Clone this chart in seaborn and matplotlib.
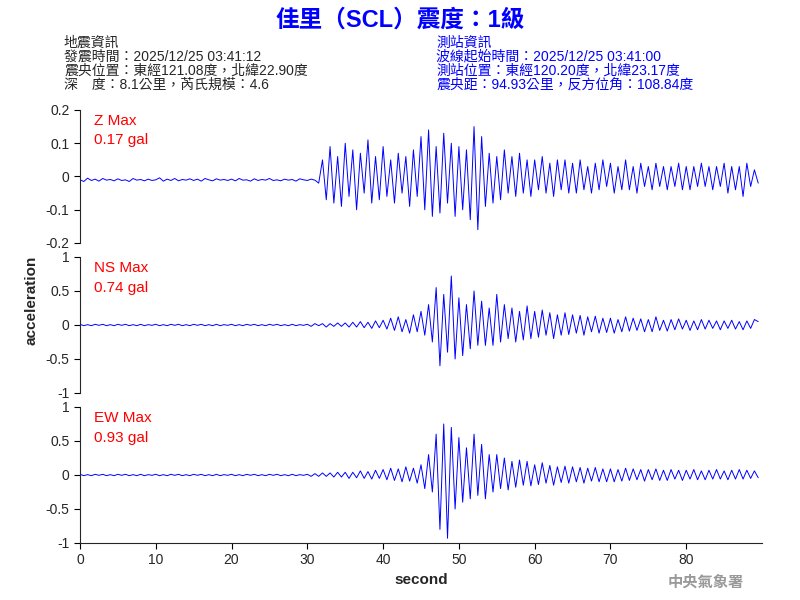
import numpy as np
import pandas as pd
import seaborn as sns
import matplotlib.pyplot as plt

sns.set_style("ticks")
plt.rcParams['font.family'] = ['Liberation Sans', 'Noto Sans CJK TC', 'DejaVu Sans']

dt = 0.5
z_vals = [
-0.01,-0.015,-0.005,-0.012,-0.008,-0.014,-0.006,-0.011,-0.009,-0.013,
-0.007,-0.012,-0.01,-0.015,-0.006,-0.011,-0.009,-0.013,-0.008,-0.012,
-0.01,-0.004,-0.014,-0.008,-0.012,-0.006,-0.013,-0.009,-0.011,-0.007,
-0.012,-0.008,-0.014,-0.006,-0.01,-0.013,-0.007,-0.011,-0.009,-0.012,
-0.008,-0.013,-0.006,-0.011,-0.01,-0.014,-0.007,-0.012,-0.009,-0.011,
-0.006,-0.012,-0.01,-0.013,-0.008,-0.011,-0.009,-0.014,-0.007,-0.01,
-0.012,-0.008,-0.011,-0.02,0.05,-0.07,0.09,-0.08,0.06,-0.09,
0.1,-0.06,0.08,-0.1,0.07,-0.05,0.11,-0.08,0.06,-0.07,
0.09,-0.06,0.05,-0.08,0.07,-0.05,0.06,-0.09,0.08,-0.06,
0.12,-0.1,0.14,-0.12,0.09,-0.11,0.13,-0.08,0.1,-0.12,
0.09,-0.1,0.08,-0.13,0.15,-0.16,0.12,-0.09,0.07,-0.08,
0.06,-0.07,0.08,-0.05,0.06,-0.06,0.07,-0.05,0.05,-0.06,
0.05,-0.04,0.06,-0.05,0.04,-0.06,0.05,-0.04,0.05,-0.05,
0.04,-0.05,0.05,-0.04,0.03,-0.05,0.04,-0.04,0.05,-0.03,
0.04,-0.05,0.03,-0.04,0.05,-0.04,0.03,-0.05,0.04,-0.03,
0.03,-0.04,0.04,-0.03,0.03,-0.04,0.03,-0.03,0.04,-0.04,
0.03,-0.04,0.03,-0.03,0.04,-0.03,0.03,-0.04,0.03,-0.03,
0.04,-0.05,0.03,-0.04,0.03,-0.06,0.04,-0.03,0.02,-0.02,
]
ns_vals = [
0.01,-0.01,0.005,-0.01,0.01,-0.005,0.01,-0.01,0.005,-0.01,
0.01,-0.005,0.01,-0.01,0.005,-0.01,0.01,-0.01,0.005,-0.005,
0.01,-0.01,0.005,-0.01,0.01,-0.005,0.01,-0.01,0.005,-0.01,
0.01,-0.005,0.01,-0.01,0.005,-0.01,0.01,-0.01,0.005,-0.005,
0.01,-0.01,0.005,-0.01,0.01,-0.005,0.01,-0.01,0.005,-0.01,
0.01,-0.005,0.01,-0.01,0.005,-0.01,0.01,-0.01,0.005,-0.005,
0.01,-0.02,0.02,-0.01,0.02,-0.03,0.02,-0.02,0.03,-0.02,
0.03,-0.03,0.04,-0.03,0.05,-0.04,0.04,-0.05,0.06,-0.04,
0.07,-0.06,0.1,-0.08,0.12,-0.1,0.08,-0.12,0.15,-0.1,
0.2,-0.15,0.3,-0.25,0.55,-0.6,0.45,-0.4,0.72,-0.5,
0.4,-0.45,0.3,-0.35,0.5,-0.3,0.35,-0.3,0.25,-0.3,
0.45,-0.25,0.3,-0.2,0.25,-0.25,0.2,-0.22,0.28,-0.2,
0.2,-0.18,0.22,-0.15,0.18,-0.2,0.15,-0.15,0.18,-0.14,
0.15,-0.12,0.14,-0.15,0.12,-0.1,0.13,-0.12,0.1,-0.11,
0.1,-0.12,0.08,-0.1,0.12,-0.09,0.1,-0.08,0.09,-0.1,
0.08,-0.1,0.12,-0.08,0.07,-0.09,0.08,-0.07,0.09,-0.06,
0.07,-0.08,0.06,-0.07,0.08,-0.06,0.07,-0.05,0.06,-0.07,
0.06,-0.05,0.07,-0.06,0.05,-0.07,0.06,-0.05,0.08,0.05,
]
ew_vals = [
0.01,-0.01,0.005,-0.01,0.01,-0.005,0.01,-0.01,0.005,-0.01,
0.01,-0.005,0.01,-0.01,0.005,-0.01,0.01,-0.01,0.005,-0.005,
0.01,-0.01,0.005,-0.01,0.01,-0.005,0.01,-0.01,0.005,-0.01,
0.01,-0.005,0.01,-0.01,0.005,-0.01,0.01,-0.01,0.005,-0.005,
0.01,-0.01,0.005,-0.01,0.01,-0.005,0.01,-0.01,0.005,-0.01,
0.01,-0.005,0.01,-0.01,0.005,-0.01,0.01,-0.01,0.005,-0.005,
0.01,-0.02,0.02,-0.02,0.03,-0.02,0.03,-0.03,0.04,-0.03,
0.04,-0.05,0.04,-0.04,0.06,-0.05,0.05,-0.06,0.07,-0.05,
0.08,-0.07,0.1,-0.08,0.09,-0.1,0.12,-0.09,0.1,-0.12,
0.15,-0.2,0.3,-0.25,0.6,-0.8,0.75,-0.93,0.7,-0.5,
0.55,-0.4,0.4,-0.35,0.6,-0.3,0.45,-0.35,0.3,-0.25,
0.3,-0.2,0.25,-0.22,0.2,-0.18,0.22,-0.15,0.2,-0.16,
0.15,-0.14,0.18,-0.12,0.14,-0.15,0.12,-0.11,0.13,-0.12,
0.12,-0.1,0.11,-0.12,0.1,-0.09,0.11,-0.1,0.09,-0.1,
0.09,-0.1,0.08,-0.09,0.1,-0.08,0.09,-0.07,0.08,-0.09,
0.08,-0.07,0.09,-0.08,0.07,-0.08,0.08,-0.06,0.07,-0.08,
0.07,-0.06,0.08,-0.07,0.06,-0.07,0.07,-0.06,0.08,-0.06,
0.06,-0.07,0.07,-0.06,0.08,-0.06,0.07,-0.05,0.06,-0.04,
]
channels = ["Z", "NS", "EW"]
max_labels = ["0.17 gal", "0.74 gal", "0.93 gal"]
ylims = [(-0.2, 0.2), (-1, 1), (-1, 1)]
yticks = [[-0.2, -0.1, 0, 0.1, 0.2], [-1, -0.5, 0, 0.5, 1], [-1, -0.5, 0, 0.5, 1]]
ytick_labels = [["-0.2", "-0.1", "0", "0.1", "0.2"], ["-1", "-0.5", "0", "0.5", "1"], ["-1", "-0.5", "0", "0.5", "1"]]
xticks = [0, 10, 20, 30, 40, 50, 60, 70, 80]

series = [z_vals, ns_vals, ew_vals]
fig = plt.figure(figsize=(8, 6), dpi=100)
rects = [(0.1, 0.595, 0.8525, 0.2217), (0.1, 0.345, 0.8525, 0.2267), (0.1, 0.095, 0.8525, 0.2267)]
for i, (ch, vals) in enumerate(zip(channels, series)):
    ax = fig.add_axes(rects[i])
    df = pd.DataFrame({"t": np.arange(len(vals)) * dt, "a": vals})
    sns.lineplot(data=df, x="t", y="a", ax=ax, color="#0000ff", linewidth=0.7)
    ax.set_xlim(0, 90)
    ax.set_ylim(*ylims[i])
    ax.set_yticks(yticks[i])
    ax.set_yticklabels(ytick_labels[i])
    ax.set_ylabel("")
    ax.set_xlabel("")
    for s in ["top", "right"]:
        ax.spines[s].set_visible(False)
    ax.tick_params(labelsize=10, length=4, color="black")
    if i < 2:
        ax.spines["bottom"].set_visible(False)
        ax.set_xticks([])
    else:
        ax.set_xticks(xticks)
        ax.set_xlabel("second", fontsize=11, fontweight="bold")
    ax.text(0.02, 0.97, f"{ch} Max\n{max_labels[i]}", transform=ax.transAxes,
            color="red", fontsize=11, va="top", ha="left", linespacing=1.5)

fig.text(0.04, 0.5, "acceleration", rotation=90, fontsize=11, fontweight="bold", va="center", ha="center")
fig.text(0.5, 0.967, "佳里（SCL）震度：1級", color="#0000ff", fontsize=17, fontweight="bold", ha="center", va="center")
left = "地震資訊\n發震時間：2025/12/25 03:41:12\n震央位置：東經121.08度，北緯22.90度\n深　度：8.1公里，芮氏規模：4.6"
right = "測站資訊\n波線起始時間：2025/12/25 03:41:00\n測站位置：東經120.20度，北緯23.17度\n震央距：94.93公里，反方位角：108.84度"
fig.text(0.08, 0.94, left, fontsize=10, va="top", ha="left", linespacing=1.0)
fig.text(0.545, 0.94, right, fontsize=10, va="top", ha="left", color="#0000ff", linespacing=1.0)
fig.text(0.93, 0.03, "中央氣象署", fontsize=11, color="#999999", ha="right", va="center", fontweight="bold")
fig.savefig("out.png", dpi=100)
